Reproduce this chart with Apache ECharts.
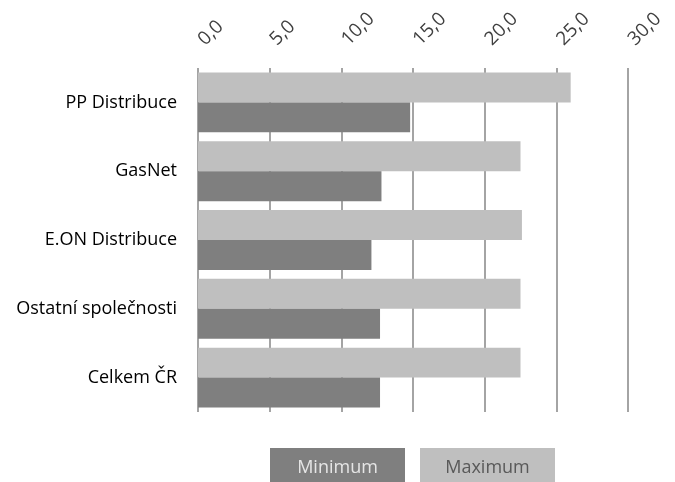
<!DOCTYPE html>
<html>
<head>
<meta charset="utf-8">
<script src="https://cdn.jsdelivr.net/npm/echarts@6/dist/echarts.min.js"></script>
<style>
  html, body { margin: 0; padding: 0; background: #fff; }
  #main { width: 675px; height: 482px; }
</style>
</head>
<body>
<div id="main"></div>
<script>
  // data
  var categories = ['PP Distribuce', 'GasNet', 'E.ON Distribuce', 'Ostatní společnosti', 'Celkem ČR'];
  var maximum = [26.0, 22.5, 22.6, 22.5, 22.5];
  var minimum = [14.8, 12.8, 12.1, 12.7, 12.7];
  var legendNames = ['Minimum', 'Maximum'];

  var font = 'Open Sans';
  var myChart = echarts.init(document.getElementById('main'));

  var option = {
    animation: false,
    textStyle: { fontFamily: font },
    grid: { left: 198, right: 47, top: 68, bottom: 70 },
    legend: {
      data: legendNames,
      top: 443,
      left: 260,
      itemWidth: 0,
      itemHeight: 0,
      itemGap: 10,
      selectedMode: false,
      formatter: function (name) {
        return '{' + name + '|' + name + '}';
      },
      textStyle: {
        rich: {
          Minimum: {
            backgroundColor: '#7f7f7f', color: '#e6e6e6', fontSize: 18, fontFamily: font,
            width: 135, height: 40, align: 'center', verticalAlign: 'middle'
          },
          Maximum: {
            backgroundColor: '#bfbfbf', color: '#595959', fontSize: 18, fontFamily: font,
            width: 135, height: 40, align: 'center', verticalAlign: 'middle'
          }
        }
      }
    },
    xAxis: {
      type: 'value',
      position: 'top',
      min: 0,
      max: 30,
      interval: 5,
      axisLine: { show: false },
      axisTick: { show: false },
      axisLabel: {
        rotate: -45,
        margin: 22,
        padding: [0, 0, 0, 5],
        fontSize: 19,
        color: '#404040',
        formatter: function (v) { return v.toFixed(1).replace('.', ','); }
      },
      splitLine: { show: true, lineStyle: { color: '#868686', width: 1.5 } }
    },
    yAxis: {
      type: 'category',
      inverse: true,
      data: categories,
      axisLine: { show: false },
      axisTick: { show: false },
      axisLabel: { margin: 21, fontSize: 18, color: '#000' }
    },
    series: [
      {
        name: 'Maximum',
        type: 'bar',
        data: maximum,
        barGap: '0%',
        barCategoryGap: '13%',
        itemStyle: { color: '#bfbfbf' }
      },
      {
        name: 'Minimum',
        type: 'bar',
        data: minimum,
        itemStyle: { color: '#7f7f7f' }
      }
    ]
  };
  myChart.setOption(option);
</script>
</body>
</html>
